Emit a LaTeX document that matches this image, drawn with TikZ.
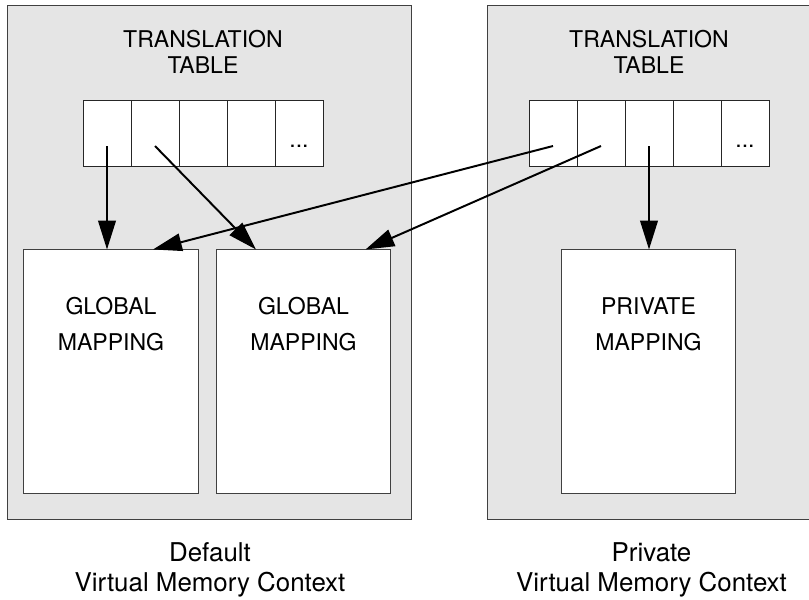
\documentclass[tikz,border=0pt]{standalone}
\usepackage{fontspec}
\setmainfont{TeX Gyre Heros}
\usepackage{tikz}
\usetikzlibrary{arrows.meta, positioning, calc}

\begin{document}
\begin{tikzpicture}[
    x=0.025cm, y=-0.025cm,
    font=\fontsize{16.4}{18.5}\selectfont,
    >={Triangle[length=0.72cm, width=0.44cm]},
    panel/.style={draw=black!75, line width=0.7pt, fill=gray!20,
        minimum width=#1, minimum height=12.825cm, inner sep=0pt},
    cell/.style={draw=black!85, line width=0.7pt, fill=white,
        minimum width=1.2cm, minimum height=1.65cm, inner sep=0pt},
    mapbox/.style={draw=black!75, line width=0.7pt, fill=white,
        minimum width=4.35cm, minimum height=6.075cm, inner sep=0pt},
    title/.style={align=center},
    maplbl/.style={align=center, font=\fontsize{16.4}{25.6}\selectfont},
    ctxlbl/.style={align=center, font=\fontsize{18.4}{21.3}\selectfont},
    arr/.style={->, line width=1.4pt},
]
\useasboundingbox (0,0) rectangle (809,599);
%% Contexts
\node[panel=10.075cm] (defctx)  at (209.5,262.5) {};
\node[panel=8.1cm]    (privctx) at (650,262.5)   {};
\node[title] (deftitle)  at (203,52) {TRANSLATION\\TABLE};
\node[title] (privtitle) at (649,52) {TRANSLATION\\TABLE};
%% Translation tables
\foreach \i in {1,...,5} {
    \node[cell] (lc\i) at ({59+48*\i},133)  {};
    \node[cell] (rc\i) at ({505+48*\i},133) {};
}
\node (ldots) at ([yshift=-0.325cm]lc5.center) {...};
\node (rdots) at ([yshift=-0.325cm]rc5.center) {...};
%% Mappings
\node[mapbox] (gm1) at (111,371.5)   {};
\node[mapbox] (gm2) at (303.5,371.5) {};
\node[mapbox] (pm)  at (648.5,371.5) {};
\node[maplbl] (gm1lbl) at ([yshift=-1.87cm]gm1.north) {GLOBAL\\MAPPING};
\node[maplbl] (gm2lbl) at ([yshift=-1.87cm]gm2.north) {GLOBAL\\MAPPING};
\node[maplbl] (pmlbl)  at ([yshift=-1.87cm]pm.north)  {PRIVATE\\MAPPING};
%% Arrows
\draw[arr] ([yshift=-0.325cm]lc1.center) -- (lc1.center |- gm1.north);
\draw[arr] ([yshift=-0.325cm]lc2.center) -- ([xshift=1.0cm]gm2.north west);
\draw[arr] ([yshift=-0.325cm]rc1.center) -- ([xshift=1.05cm]gm1.north);
\draw[arr] ([yshift=-0.325cm]rc2.center) -- ([xshift=1.55cm]gm2.north);
\draw[arr] ([yshift=-0.325cm]rc3.center) -- (rc3.center |- pm.north);
%% Context labels
\node[ctxlbl] (deflbl)  at (210,570)   {Default\\Virtual Memory Context};
\node[ctxlbl] (privlbl) at (651.5,570) {Private\\Virtual Memory Context};
\end{tikzpicture}
\end{document}
